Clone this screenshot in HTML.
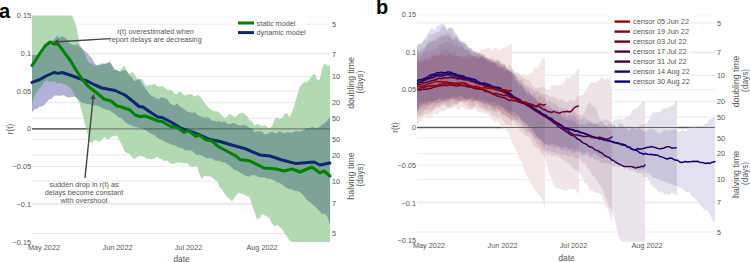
<!DOCTYPE html>
<html><head><meta charset="utf-8"><style>
html,body{margin:0;padding:0;background:#fff;}
body{width:750px;height:262px;overflow:hidden;}
svg{display:block;}
text{font-family:"Liberation Sans", sans-serif;}
</style></head><body>
<svg width="750" height="262" viewBox="0 0 750 262">
<defs>
<clipPath id="ca"><rect x="32" y="15" width="298" height="228"/></clipPath>
</defs>
<line x1="32" x2="330" y1="17.05" y2="17.05" stroke="#f6f6f6" stroke-width="1"/><line x1="32" x2="330" y1="53.30" y2="53.30" stroke="#e9e9e9" stroke-width="1"/><line x1="32" x2="330" y1="91.05" y2="91.05" stroke="#e9e9e9" stroke-width="1"/><line x1="32" x2="330" y1="166.55" y2="166.55" stroke="#e9e9e9" stroke-width="1"/><line x1="32" x2="330" y1="204.30" y2="204.30" stroke="#e9e9e9" stroke-width="1"/><line x1="32" x2="330" y1="24.13" y2="24.13" stroke="#e9e9e9" stroke-width="1"/><line x1="32" x2="330" y1="233.47" y2="233.47" stroke="#e9e9e9" stroke-width="1"/><line x1="32" x2="330" y1="54.04" y2="54.04" stroke="#e9e9e9" stroke-width="1"/><line x1="32" x2="330" y1="203.56" y2="203.56" stroke="#e9e9e9" stroke-width="1"/><line x1="32" x2="330" y1="76.47" y2="76.47" stroke="#e9e9e9" stroke-width="1"/><line x1="32" x2="330" y1="181.13" y2="181.13" stroke="#e9e9e9" stroke-width="1"/><line x1="32" x2="330" y1="102.63" y2="102.63" stroke="#e9e9e9" stroke-width="1"/><line x1="32" x2="330" y1="154.97" y2="154.97" stroke="#e9e9e9" stroke-width="1"/><line x1="32" x2="330" y1="118.33" y2="118.33" stroke="#e9e9e9" stroke-width="1"/><line x1="32" x2="330" y1="139.27" y2="139.27" stroke="#e9e9e9" stroke-width="1"/><line x1="32" x2="330" y1="128.80" y2="128.80" stroke="#6a6a6a" stroke-width="1.3"/><polygon points="32,55 34.5,54.49 37,55.41 39.5,53.31 42,50.17 44.5,48.16 47,44.54 49.5,42.35 52,40.52 54.5,39.23 57,35.53 59.5,38.3 62,35.88 64.5,37.54 67,39.22 69.5,43.42 72,44.34 74.5,45.39 77,44.32 79.5,46.16 82,48.63 84.5,50.65 87,52.83 89.5,55.76 92,58.53 94.5,63.43 97,65.03 99.5,64.66 102,64.46 104.5,63.86 107,63.28 109.5,61.18 112,65.01 114.5,69.84 117,70.02 119.5,71.66 122,71.46 124.5,70.05 127,71.05 129.5,75.76 132,77.15 134.5,81.35 137,79.63 139.5,78.96 142,83.7 144.5,87.04 147,90.38 149.5,93.96 152,96.32 154.5,96.66 157,98.63 159.5,98.81 162,97 164.5,98.31 167,98.78 169.5,102.67 172,104.73 174.5,105.41 177,103.21 179.5,106.21 182,107.68 184.5,109.21 187,111.47 189.5,112.04 192,112.9 194.5,112.1 197,114.56 199.5,115.74 202,116.82 204.5,117.78 207,117.15 209.5,118.25 212,120.38 214.5,120.75 217,121.63 219.5,121.02 222,122.62 224.5,121.25 227,123.79 229.5,124.11 232,123.24 234.5,123.07 237,124.77 239.5,125.62 242,125.28 244.5,125.04 247,126.1 249.5,127.96 252,128.23 254.5,132.43 257,131.13 259.5,131.43 262,131.61 264.5,134.2 267,134.18 269.5,132.55 272,131.81 274.5,133.03 277,133.43 279.5,131.07 282,132.58 284.5,133.14 287,132.15 289.5,132.42 292,132.81 294.5,131.15 297,130.98 299.5,131.7 302,130.58 304.5,129.54 307,128.04 309.5,128.54 312,126.72 314.5,127.7 317,128.24 319.5,127 322,124.64 324.5,123.18 327,120.92 329.5,117.75 330,117 330,224.8 329.5,223.55 327,216.02 324.5,213.26 322,214.39 319.5,211.04 317,208.56 314.5,206 312,204.36 309.5,201.75 307,199.91 304.5,196.8 302,193.71 299.5,191.68 297,191 294.5,190.96 292,189.22 289.5,189.21 287,188.11 284.5,186.6 282,184.52 279.5,182.86 277,182.38 274.5,180.39 272,179.19 269.5,178.77 267,178.8 264.5,177.21 262,177.61 259.5,177.26 257,176.31 254.5,175.14 252,175.01 249.5,176.66 247,176.34 244.5,175.31 242,173.81 239.5,172.25 237,170.52 234.5,169.89 232,167.84 229.5,165.47 227,164.26 224.5,162.6 222,162.36 219.5,160.85 217,160.65 214.5,160.5 212,158.35 209.5,158.15 207,158.29 204.5,157.32 202,155.61 199.5,154.79 197,154.91 194.5,153.25 192,150.87 189.5,150.2 187,150.59 184.5,149.65 182,147.95 179.5,147.83 177,146.65 174.5,145.07 172,144.69 169.5,143.38 167,143.06 164.5,141.46 162,140.06 159.5,138.92 157,137.66 154.5,135.03 152,134.36 149.5,132.66 147,130.92 144.5,129.43 142,128.51 139.5,128.04 137,127.18 134.5,126.81 132,125.79 129.5,124.53 127,123.48 124.5,121.74 122,118.44 119.5,117.65 117,115.84 114.5,113.45 112,112.18 109.5,110.21 107,109.85 104.5,109.26 102,108.01 99.5,106.41 97,105.79 94.5,105.18 92,105.51 89.5,104.11 87,104.19 84.5,103.21 82,102.92 79.5,100.5 77,98.25 74.5,96.62 72,97.04 69.5,97.47 67,97.17 64.5,95.52 62,95.37 59.5,96.01 57,95.39 54.5,95.61 52,98.46 49.5,99.29 47,101.73 44.5,104.91 42,106.37 39.5,106.87 37,108.67 34.5,109.19 32,112.3" fill="#fff"/><polygon points="32,15.5 34.5,15.5 37,15.5 39.5,15.5 42,15.5 44.5,15.5 47,15.5 49.5,15.5 52,15.5 54.5,15.5 57,15.5 59.5,15.5 62,15.5 64.5,15.5 67,15.5 69.5,15.5 72,15.5 74.5,20.83 77,29.32 79.5,44.06 82,48.46 84.5,53.02 87,59.17 89.5,63.56 92,63.04 94.5,65.97 97,65.43 99.5,65.07 102,62.87 104.5,63.8 107,63.78 109.5,62.49 112,65.55 114.5,69.35 117,70.63 119.5,70.95 122,67.71 124.5,65.38 127,72.22 129.5,74.04 132,72.12 134.5,73.77 137,78.74 139.5,79.33 142,79.11 144.5,83.55 147,86.13 149.5,84.5 152,85.3 154.5,83.87 157,86.28 159.5,86.62 162,85.73 164.5,87.46 167,89.49 169.5,90.22 172,89.91 174.5,94.18 177,93.77 179.5,91.48 182,92.87 184.5,95.81 187,94.41 189.5,94.58 192,94.11 194.5,96.83 197,94.91 199.5,95.65 202,98.94 204.5,103.12 207,105.68 209.5,108.61 212,110.21 214.5,111.36 217,111.37 219.5,112.77 222,115.45 224.5,118.12 227,116.95 229.5,113.59 232,115.23 234.5,117.05 237,115.69 239.5,113.15 242,112.38 244.5,113.84 247,115.91 249.5,119.88 252,121.27 254.5,125.38 257,123.95 259.5,124.83 262,126.41 264.5,124.9 267,126.81 269.5,127.91 272,126.16 274.5,120.01 277,116.86 279.5,119.33 282,118.24 284.5,113.92 287,113.07 289.5,117.7 292,112.37 294.5,104.71 297,96.07 299.5,86.89 302,84.17 304.5,81.88 307,82.14 309.5,79.86 312,75.46 314.5,73.63 317,79.3 319.5,80.25 322,69.15 324.5,63.32 327,65.74 329.5,65.62 330,66 330,242 329.5,242 327,242 324.5,242 322,242 319.5,242 317,242 314.5,242 312,242 309.5,242 307,242 304.5,242 302,242 299.5,242 297,242 294.5,242 292,242 289.5,240.68 287,236.23 284.5,233.36 282,229.17 279.5,226.79 277,225 274.5,226.38 272,223.76 269.5,218.1 267,216.54 264.5,215.18 262,214.17 259.5,218.34 257,219.47 254.5,212.03 252,204.97 249.5,196.72 247,196.41 244.5,194.77 242,193.99 239.5,192.63 237,194.33 234.5,197.4 232,201.52 229.5,198.74 227,197.14 224.5,193.43 222,189.79 219.5,186.75 217,181.21 214.5,179.68 212,177.15 209.5,176.27 207,176.29 204.5,175.8 202,178.9 199.5,174.77 197,166.02 194.5,166.85 192,166.89 189.5,165.72 187,163.08 184.5,163.23 182,162.88 179.5,162.51 177,162.71 174.5,163.36 172,164.07 169.5,162.7 167,160.34 164.5,161.23 162,159.61 159.5,158.54 157,156.69 154.5,158.47 152,159.14 149.5,158.87 147,158.78 144.5,156.63 142,156.55 139.5,155.76 137,157.22 134.5,159.17 132,157.13 129.5,153.82 127,153.33 124.5,151.15 122,144.7 119.5,140.8 117,135.27 114.5,136.25 112,136.19 109.5,138.88 107,138.87 104.5,137.01 102,139.5 99.5,142.01 97,140.75 94.5,139.83 92,142.88 89.5,142.35 87,131.66 84.5,121.83 82,112.48 79.5,103.43 77,98.45 74.5,95.19 72,90.02 69.5,87.67 67,85.24 64.5,84.29 62,83.98 59.5,82.66 57,83.45 54.5,80.89 52,82.08 49.5,81.83 47,80.11 44.5,81.9 42,85.51 39.5,88.68 37,91.17 34.5,95.82 32,105" fill="#fff"/><polygon points="32,55 34.5,54.49 37,55.41 39.5,53.31 42,50.17 44.5,48.16 47,44.54 49.5,42.35 52,40.52 54.5,39.23 57,35.53 59.5,38.3 62,35.88 64.5,37.54 67,39.22 69.5,43.42 72,44.34 74.5,45.39 77,44.32 79.5,46.16 82,48.63 84.5,50.65 87,52.83 89.5,55.76 92,58.53 94.5,63.43 97,65.03 99.5,64.66 102,64.46 104.5,63.86 107,63.28 109.5,61.18 112,65.01 114.5,69.84 117,70.02 119.5,71.66 122,71.46 124.5,70.05 127,71.05 129.5,75.76 132,77.15 134.5,81.35 137,79.63 139.5,78.96 142,83.7 144.5,87.04 147,90.38 149.5,93.96 152,96.32 154.5,96.66 157,98.63 159.5,98.81 162,97 164.5,98.31 167,98.78 169.5,102.67 172,104.73 174.5,105.41 177,103.21 179.5,106.21 182,107.68 184.5,109.21 187,111.47 189.5,112.04 192,112.9 194.5,112.1 197,114.56 199.5,115.74 202,116.82 204.5,117.78 207,117.15 209.5,118.25 212,120.38 214.5,120.75 217,121.63 219.5,121.02 222,122.62 224.5,121.25 227,123.79 229.5,124.11 232,123.24 234.5,123.07 237,124.77 239.5,125.62 242,125.28 244.5,125.04 247,126.1 249.5,127.96 252,128.23 254.5,132.43 257,131.13 259.5,131.43 262,131.61 264.5,134.2 267,134.18 269.5,132.55 272,131.81 274.5,133.03 277,133.43 279.5,131.07 282,132.58 284.5,133.14 287,132.15 289.5,132.42 292,132.81 294.5,131.15 297,130.98 299.5,131.7 302,130.58 304.5,129.54 307,128.04 309.5,128.54 312,126.72 314.5,127.7 317,128.24 319.5,127 322,124.64 324.5,123.18 327,120.92 329.5,117.75 330,117 330,224.8 329.5,223.55 327,216.02 324.5,213.26 322,214.39 319.5,211.04 317,208.56 314.5,206 312,204.36 309.5,201.75 307,199.91 304.5,196.8 302,193.71 299.5,191.68 297,191 294.5,190.96 292,189.22 289.5,189.21 287,188.11 284.5,186.6 282,184.52 279.5,182.86 277,182.38 274.5,180.39 272,179.19 269.5,178.77 267,178.8 264.5,177.21 262,177.61 259.5,177.26 257,176.31 254.5,175.14 252,175.01 249.5,176.66 247,176.34 244.5,175.31 242,173.81 239.5,172.25 237,170.52 234.5,169.89 232,167.84 229.5,165.47 227,164.26 224.5,162.6 222,162.36 219.5,160.85 217,160.65 214.5,160.5 212,158.35 209.5,158.15 207,158.29 204.5,157.32 202,155.61 199.5,154.79 197,154.91 194.5,153.25 192,150.87 189.5,150.2 187,150.59 184.5,149.65 182,147.95 179.5,147.83 177,146.65 174.5,145.07 172,144.69 169.5,143.38 167,143.06 164.5,141.46 162,140.06 159.5,138.92 157,137.66 154.5,135.03 152,134.36 149.5,132.66 147,130.92 144.5,129.43 142,128.51 139.5,128.04 137,127.18 134.5,126.81 132,125.79 129.5,124.53 127,123.48 124.5,121.74 122,118.44 119.5,117.65 117,115.84 114.5,113.45 112,112.18 109.5,110.21 107,109.85 104.5,109.26 102,108.01 99.5,106.41 97,105.79 94.5,105.18 92,105.51 89.5,104.11 87,104.19 84.5,103.21 82,102.92 79.5,100.5 77,98.25 74.5,96.62 72,97.04 69.5,97.47 67,97.17 64.5,95.52 62,95.37 59.5,96.01 57,95.39 54.5,95.61 52,98.46 49.5,99.29 47,101.73 44.5,104.91 42,106.37 39.5,106.87 37,108.67 34.5,109.19 32,112.3" fill="rgba(0,0,128,0.3)"/><polygon points="32,15.5 34.5,15.5 37,15.5 39.5,15.5 42,15.5 44.5,15.5 47,15.5 49.5,15.5 52,15.5 54.5,15.5 57,15.5 59.5,15.5 62,15.5 64.5,15.5 67,15.5 69.5,15.5 72,15.5 74.5,20.83 77,29.32 79.5,44.06 82,48.46 84.5,53.02 87,59.17 89.5,63.56 92,63.04 94.5,65.97 97,65.43 99.5,65.07 102,62.87 104.5,63.8 107,63.78 109.5,62.49 112,65.55 114.5,69.35 117,70.63 119.5,70.95 122,67.71 124.5,65.38 127,72.22 129.5,74.04 132,72.12 134.5,73.77 137,78.74 139.5,79.33 142,79.11 144.5,83.55 147,86.13 149.5,84.5 152,85.3 154.5,83.87 157,86.28 159.5,86.62 162,85.73 164.5,87.46 167,89.49 169.5,90.22 172,89.91 174.5,94.18 177,93.77 179.5,91.48 182,92.87 184.5,95.81 187,94.41 189.5,94.58 192,94.11 194.5,96.83 197,94.91 199.5,95.65 202,98.94 204.5,103.12 207,105.68 209.5,108.61 212,110.21 214.5,111.36 217,111.37 219.5,112.77 222,115.45 224.5,118.12 227,116.95 229.5,113.59 232,115.23 234.5,117.05 237,115.69 239.5,113.15 242,112.38 244.5,113.84 247,115.91 249.5,119.88 252,121.27 254.5,125.38 257,123.95 259.5,124.83 262,126.41 264.5,124.9 267,126.81 269.5,127.91 272,126.16 274.5,120.01 277,116.86 279.5,119.33 282,118.24 284.5,113.92 287,113.07 289.5,117.7 292,112.37 294.5,104.71 297,96.07 299.5,86.89 302,84.17 304.5,81.88 307,82.14 309.5,79.86 312,75.46 314.5,73.63 317,79.3 319.5,80.25 322,69.15 324.5,63.32 327,65.74 329.5,65.62 330,66 330,242 329.5,242 327,242 324.5,242 322,242 319.5,242 317,242 314.5,242 312,242 309.5,242 307,242 304.5,242 302,242 299.5,242 297,242 294.5,242 292,242 289.5,240.68 287,236.23 284.5,233.36 282,229.17 279.5,226.79 277,225 274.5,226.38 272,223.76 269.5,218.1 267,216.54 264.5,215.18 262,214.17 259.5,218.34 257,219.47 254.5,212.03 252,204.97 249.5,196.72 247,196.41 244.5,194.77 242,193.99 239.5,192.63 237,194.33 234.5,197.4 232,201.52 229.5,198.74 227,197.14 224.5,193.43 222,189.79 219.5,186.75 217,181.21 214.5,179.68 212,177.15 209.5,176.27 207,176.29 204.5,175.8 202,178.9 199.5,174.77 197,166.02 194.5,166.85 192,166.89 189.5,165.72 187,163.08 184.5,163.23 182,162.88 179.5,162.51 177,162.71 174.5,163.36 172,164.07 169.5,162.7 167,160.34 164.5,161.23 162,159.61 159.5,158.54 157,156.69 154.5,158.47 152,159.14 149.5,158.87 147,158.78 144.5,156.63 142,156.55 139.5,155.76 137,157.22 134.5,159.17 132,157.13 129.5,153.82 127,153.33 124.5,151.15 122,144.7 119.5,140.8 117,135.27 114.5,136.25 112,136.19 109.5,138.88 107,138.87 104.5,137.01 102,139.5 99.5,142.01 97,140.75 94.5,139.83 92,142.88 89.5,142.35 87,131.66 84.5,121.83 82,112.48 79.5,103.43 77,98.45 74.5,95.19 72,90.02 69.5,87.67 67,85.24 64.5,84.29 62,83.98 59.5,82.66 57,83.45 54.5,80.89 52,82.08 49.5,81.83 47,80.11 44.5,81.9 42,85.51 39.5,88.68 37,91.17 34.5,95.82 32,105" fill="rgba(0,128,0,0.3)"/><line x1="32" x2="330" y1="128.80" y2="128.80" stroke="#333" stroke-width="1.3" stroke-opacity="0.5"/><polyline points="32,82.4 40,79.5 46,76 54,72.5 58,73.4 62,72.5 70,75 78,78 88,81.5 95,85 102,88 115,90.5 125,95 135,103 139,106.5 143,107 150,112 158,117 162,117.5 170,121.5 177,125.5 180,128 188,130.5 200,135 210,139.5 220,141.5 230,144.5 246,149 260,155 270,156 282,160 296,163.6 314,162 320,165 330,163" fill="none" stroke="#0c286c" stroke-width="3.0" stroke-linejoin="round" stroke-linecap="round"/><polyline points="32,65.6 39.5,54 45,46 50,42 54,44 58,44 64,52 70,60 76,70 82,79 88,86 93,90 98,94 104,99 111,101 117,106 120,106.5 130,110 135,115 140,116.5 145,116 152,118.5 158,121 162,121.5 170,126 178,128 184,132.5 188,130.5 196,136.5 199,135 206,140 212,141 219,147 236,156 240,159.6 250,161 264,168 276,169 284,171 292,169 300,172 312,167 320,173 324,171 330,176" fill="none" stroke="#008000" stroke-width="3.0" stroke-linejoin="round" stroke-linecap="round"/><text x="31" y="18.150000000000013" font-size="7.3" text-anchor="end" fill="#555" >0.15</text><text x="31" y="55.90000000000001" font-size="7.3" text-anchor="end" fill="#555" >0.1</text><text x="31" y="93.65" font-size="7.3" text-anchor="end" fill="#555" >0.05</text><text x="31" y="131.4" font-size="7.3" text-anchor="end" fill="#555" >0</text><text x="31" y="169.15" font-size="7.3" text-anchor="end" fill="#555" >−0.05</text><text x="31" y="206.9" font-size="7.3" text-anchor="end" fill="#555" >−0.1</text><text x="31" y="244.65" font-size="7.3" text-anchor="end" fill="#555" >−0.15</text><text x="332" y="26.734775735448274" font-size="7.3" text-anchor="start" fill="#555" >5</text><text x="332" y="236.06522426455174" font-size="7.3" text-anchor="start" fill="#555" >5</text><text x="332" y="56.6391255253202" font-size="7.3" text-anchor="start" fill="#555" >7</text><text x="332" y="206.16087447467982" font-size="7.3" text-anchor="start" fill="#555" >7</text><text x="332" y="79.06738786772414" font-size="7.3" text-anchor="start" fill="#555" >10</text><text x="332" y="183.73261213227588" font-size="7.3" text-anchor="start" fill="#555" >10</text><text x="332" y="105.23369393386207" font-size="7.3" text-anchor="start" fill="#555" >20</text><text x="332" y="157.56630606613794" font-size="7.3" text-anchor="start" fill="#555" >20</text><text x="332" y="120.93347757354483" font-size="7.3" text-anchor="start" fill="#555" >50</text><text x="332" y="141.8665224264552" font-size="7.3" text-anchor="start" fill="#555" >50</text><text x="44" y="249.6" font-size="7.3" text-anchor="middle" fill="#555" >May 2022</text><text x="117.5" y="249.6" font-size="7.3" text-anchor="middle" fill="#555" >Jun 2022</text><text x="188.5" y="249.6" font-size="7.3" text-anchor="middle" fill="#555" >Jul 2022</text><text x="262" y="249.6" font-size="7.3" text-anchor="middle" fill="#555" >Aug 2022</text><text x="181.5" y="261.5" font-size="8.3" text-anchor="middle" fill="#555" >date</text><text transform="translate(13,129) rotate(-90)" font-size="8.3" text-anchor="middle" fill="#555">r(t)</text><text transform="translate(353.5,83) rotate(-90)" font-size="8.7" text-anchor="middle" fill="#555">doubling time</text><text transform="translate(362.5,82) rotate(-90)" font-size="8.3" text-anchor="middle" fill="#555">(days)</text><text transform="translate(353.5,176) rotate(-90)" font-size="8.9" text-anchor="middle" fill="#555">halving time</text><text transform="translate(362.5,175) rotate(-90)" font-size="8.3" text-anchor="middle" fill="#555">(days)</text><rect x="235" y="17" width="72" height="21" fill="#fff"/><line x1="238" x2="254" y1="23" y2="23" stroke="#008000" stroke-width="3"/><line x1="238" x2="254" y1="32.6" y2="32.6" stroke="#0c286c" stroke-width="3"/><text x="256.5" y="25.6" font-size="7.3" text-anchor="start" fill="#555" >static model</text><text x="256.5" y="35.2" font-size="7.3" text-anchor="start" fill="#555" >dynamic model</text><text x="155.5" y="34.2" font-size="7.3" text-anchor="middle" fill="#555" >r(t) overestimated when</text><text x="155.5" y="42.2" font-size="7.3" text-anchor="middle" fill="#555" >report delays are decreasing</text><text x="84" y="187" font-size="7.3" text-anchor="middle" fill="#555" >sudden drop in r(t) as</text><text x="84" y="194.8" font-size="7.3" text-anchor="middle" fill="#555" >delays become constant</text><text x="84" y="202.6" font-size="7.3" text-anchor="middle" fill="#555" >with overshoot</text><line x1="110" y1="38.6" x2="58.59" y2="41.70" stroke="#444" stroke-width="1.4"/><polygon points="53.60,42.00 58.43,39.10 58.75,44.29" fill="#444"/><line x1="85" y1="178" x2="93.00" y2="98.97" stroke="#444" stroke-width="1.4"/><polygon points="93.50,94.00 95.58,99.24 90.41,98.71" fill="#444"/><text x="-1" y="17.7" font-size="20" font-weight="bold" fill="#000">a</text><line x1="417" x2="715" y1="15.90" y2="15.90" stroke="#f6f6f6" stroke-width="1"/><line x1="417" x2="715" y1="52.10" y2="52.10" stroke="#e9e9e9" stroke-width="1"/><line x1="417" x2="715" y1="89.80" y2="89.80" stroke="#e9e9e9" stroke-width="1"/><line x1="417" x2="715" y1="165.20" y2="165.20" stroke="#e9e9e9" stroke-width="1"/><line x1="417" x2="715" y1="202.90" y2="202.90" stroke="#e9e9e9" stroke-width="1"/><line x1="417" x2="715" y1="22.97" y2="22.97" stroke="#e9e9e9" stroke-width="1"/><line x1="417" x2="715" y1="232.03" y2="232.03" stroke="#e9e9e9" stroke-width="1"/><line x1="417" x2="715" y1="52.84" y2="52.84" stroke="#e9e9e9" stroke-width="1"/><line x1="417" x2="715" y1="202.16" y2="202.16" stroke="#e9e9e9" stroke-width="1"/><line x1="417" x2="715" y1="75.24" y2="75.24" stroke="#e9e9e9" stroke-width="1"/><line x1="417" x2="715" y1="179.76" y2="179.76" stroke="#e9e9e9" stroke-width="1"/><line x1="417" x2="715" y1="101.37" y2="101.37" stroke="#e9e9e9" stroke-width="1"/><line x1="417" x2="715" y1="153.63" y2="153.63" stroke="#e9e9e9" stroke-width="1"/><line x1="417" x2="715" y1="117.05" y2="117.05" stroke="#e9e9e9" stroke-width="1"/><line x1="417" x2="715" y1="137.95" y2="137.95" stroke="#e9e9e9" stroke-width="1"/><line x1="417" x2="715" y1="127.50" y2="127.50" stroke="#6a6a6a" stroke-width="1.3"/><polygon points="417,61.5 419.5,62.57 422,62.25 424.5,59.32 427,61.28 429.5,60.26 432,58.48 434.5,55.3 437,56.39 439.5,54.71 442,53.61 444.5,56.41 447,56.88 449.5,52.62 452,57.2 454.5,56.42 457,55.81 459.5,55.82 462,58.27 464.5,57.68 467,58.64 469.5,58.17 472,55.16 474.5,56.34 477,55.41 479.5,51.6 482,49.23 484.5,49.51 487,48.23 489.5,47.81 492,51.21 494.5,48.01 497,48.33 499.5,50.99 502,48.07 504.5,47.74 507,46.68 509.5,44.82 512,44.5 512,127.2 509.5,124.98 507,124.38 504.5,122.44 502,118.69 499.5,117.58 497,118.16 494.5,115.92 492,115.95 489.5,111.43 487,111.49 484.5,110.39 482,109.86 479.5,108.11 477,107.51 474.5,106.39 472,108.93 469.5,108.16 467,105.71 464.5,104.64 462,102.78 459.5,102.63 457,104.4 454.5,103.93 452,107.16 449.5,108.01 447,107.83 444.5,105.33 442,105.83 439.5,108.55 437,107.42 434.5,109.79 432,111.74 429.5,113.28 427,114.45 424.5,113.65 422,117.12 419.5,117.06 417,119.2" fill="#fff"/><polygon points="417,58.5 419.5,60.41 422,61.34 424.5,58.15 427,57.47 429.5,56.97 432,54.07 434.5,54.81 437,54.51 439.5,54.43 442,50.04 444.5,50.2 447,49.35 449.5,53.45 452,53.37 454.5,50.61 457,56.01 459.5,56.67 462,55.87 464.5,56.43 467,54.69 469.5,54.48 472,57.54 474.5,55.7 477,56.85 479.5,57.61 482,57.05 484.5,59.72 487,60.1 489.5,62.61 492,61.9 494.5,63.5 497,63.8 499.5,65.61 502,65.59 504.5,65.69 507,70.63 509.5,72.05 512,72.7 514.5,73.6 517,73.2 519.5,74.34 522,74.7 524.5,73.29 527,76.46 529.5,73 532,72.73 534.5,67.93 537,68.29 539.5,65.24 542,59 544.5,58 545,58.5 545,208.2 544.5,207.37 542,199.35 539.5,195.69 537,192.28 534.5,189.12 532,185.2 529.5,180.76 527,176.43 524.5,170.22 522,163.04 519.5,159.42 517,152.28 514.5,147.01 512,142.99 509.5,134.1 507,130.73 504.5,128.76 502,129.2 499.5,123.18 497,121.6 494.5,122.01 492,119.53 489.5,115.72 487,113.39 484.5,113.76 482,112.36 479.5,112.58 477,111.36 474.5,108.04 472,110.06 469.5,109.86 467,110.05 464.5,108.9 462,106.41 459.5,109.83 457,109.61 454.5,106.06 452,108.47 449.5,108.4 447,109.04 444.5,111.85 442,110.97 439.5,111.79 437,114.93 434.5,113.26 432,116.13 429.5,117.37 427,118.03 424.5,116.8 422,119.65 419.5,122.46 417,124.6" fill="#fff"/><polygon points="417,54.5 419.5,56.72 422,55.69 424.5,52 427,50.27 429.5,51.02 432,49.07 434.5,49.75 437,47.15 439.5,44.71 442,43.29 444.5,43.81 447,41.23 449.5,42.7 452,42.11 454.5,46.83 457,43.59 459.5,48.39 462,45.81 464.5,50.03 467,49.45 469.5,50.96 472,54.31 474.5,51.36 477,52.34 479.5,57.28 482,55.91 484.5,54.49 487,59.64 489.5,60.1 492,56.96 494.5,59.64 497,59.33 499.5,61.34 502,64.01 504.5,62.84 507,66.63 509.5,64.53 512,66.96 514.5,72.18 517,72.1 519.5,74.19 522,77.08 524.5,78.48 527,80.02 529.5,80.25 532,84.88 534.5,87.02 537,88.01 539.5,87.38 542,86.78 544.5,87.75 547,89.66 549.5,88.87 552,85.35 554.5,85.25 557,85.17 559.5,85.2 562,84.95 564.5,81.4 567,77.04 569.5,79.01 572,75.15 574.5,73.72 577,70.36 579,68.5 579,194.2 577,191.77 574.5,189.35 572,189.83 569.5,188.2 567,191.4 564.5,190.75 562,189.63 559.5,188.36 557,188.19 554.5,186.76 552,180.55 549.5,173.78 547,164.5 544.5,156.52 542,154.42 539.5,149.82 537,148.04 534.5,146.55 532,141.99 529.5,136.75 527,136.6 524.5,134.72 522,131.88 519.5,129.78 517,125.85 514.5,122.62 512,120.9 509.5,119.26 507,116.91 504.5,114.94 502,115.86 499.5,111.28 497,112.76 494.5,112.35 492,110.59 489.5,110.85 487,109.8 484.5,108.92 482,107.36 479.5,106.68 477,102.84 474.5,105.89 472,105.67 469.5,104.82 467,101.44 464.5,101.53 462,101.13 459.5,101.38 457,104.76 454.5,104.79 452,102.78 449.5,106.3 447,105.32 444.5,103.77 442,104.02 439.5,106.28 437,105.87 434.5,108.08 432,110.58 429.5,108.97 427,110.74 424.5,109.99 422,113.25 419.5,114.48 417,116.2" fill="#fff"/><polygon points="417,51.5 419.5,52.93 422,50.92 424.5,49.75 427,44.43 429.5,43.15 432,41.24 434.5,40.13 437,41.17 439.5,36.9 442,37.66 444.5,34.82 447,35.47 449.5,36.78 452,39.44 454.5,39.67 457,38.57 459.5,41.75 462,42.98 464.5,48.48 467,50.05 469.5,52.03 472,54.63 474.5,56.72 477,58.5 479.5,58.03 482,55.66 484.5,59.12 487,57.93 489.5,59.9 492,59.85 494.5,60.49 497,61.48 499.5,63.12 502,63.86 504.5,64.19 507,69.02 509.5,70.23 512,73.43 514.5,74.45 517,76.27 519.5,79.74 522,79.17 524.5,84.38 527,85.72 529.5,86.88 532,88.31 534.5,90.91 537,90.57 539.5,92.6 542,94.33 544.5,94.28 547,93.95 549.5,96.75 552,96.48 554.5,97.48 557,98.27 559.5,100.13 562,98.64 564.5,101.26 567,102.49 569.5,99.39 572,100.76 574.5,101.55 577,96.83 579.5,95.33 582,95.53 584.5,92.57 587,88.7 589.5,83.8 592,82.57 594.5,83.28 597,81.81 599.5,79.83 602,76.72 604.5,80.22 607,78.07 609.5,80.03 612,74.5 612,223.2 609.5,213.55 607,208.02 604.5,203.55 602,196.39 599.5,192.83 597,193.76 594.5,191.88 592,190.12 589.5,190.43 587,183.42 584.5,182.9 582,176.08 579.5,172.68 577,169.94 574.5,169.92 572,167.3 569.5,163.66 567,162.64 564.5,161.37 562,158.91 559.5,157.19 557,155.51 554.5,156.46 552,155.53 549.5,154.35 547,154.33 544.5,151.26 542,149.26 539.5,146.35 537,143.67 534.5,139.13 532,135.6 529.5,132.31 527,132.88 524.5,129.78 522,126.69 519.5,123.32 517,122.18 514.5,119.8 512,120.37 509.5,117.81 507,116.43 504.5,114.61 502,113.91 499.5,110 497,108.41 494.5,110.15 492,108.86 489.5,105.08 487,107.78 484.5,106.53 482,103.27 479.5,102.9 477,101.04 474.5,100.99 472,102.3 469.5,100.68 467,100.82 464.5,102.66 462,100.52 459.5,101.04 457,101.44 454.5,100.48 452,99.63 449.5,101.99 447,102.04 444.5,100.66 442,102.89 439.5,102.91 437,103.64 434.5,106.37 432,104.35 429.5,105.29 427,107.11 424.5,109.48 422,108.19 419.5,109.8 417,113.2" fill="#fff"/><polygon points="417,48.5 419.5,50.23 422,48.19 424.5,47.84 427,42.71 429.5,40.85 432,41.57 434.5,39.69 437,36.41 439.5,36.82 442,34.48 444.5,36.39 447,33.09 449.5,33.62 452,38.21 454.5,36.99 457,38 459.5,42.22 462,43.12 464.5,42.55 467,46.39 469.5,48.79 472,48.12 474.5,52.39 477,51.05 479.5,53.29 482,53.18 484.5,54.96 487,59.99 489.5,58.29 492,62.65 494.5,61.39 497,63.74 499.5,66.56 502,67.13 504.5,65.76 507,69.65 509.5,71.37 512,71.61 514.5,73.92 517,80.57 519.5,81.52 522,82.67 524.5,86.71 527,88.29 529.5,93.94 532,93.94 534.5,93.11 537,97.86 539.5,95.38 542,97.5 544.5,97.41 547,102.14 549.5,100.17 552,103.4 554.5,102.4 557,105.5 559.5,107.69 562,108.07 564.5,108.8 567,110.07 569.5,110.96 572,112.88 574.5,111.5 577,114.52 579.5,114.46 582,115.49 584.5,112.95 587,105.33 589.5,101.97 592,105.02 594.5,106.52 597,109.6 599.5,118.86 602,121.55 604.5,119.37 607,119.4 609.5,120.93 612,123.2 614.5,119.4 617,119.18 619.5,118.19 622,119.98 624.5,118.6 627,116.28 629.5,115.69 632,110.92 634.5,108.87 637,108.79 639.5,104.93 642,102.58 644.5,100.5 645,100.5 645,241.8 644.5,241.8 642,241.8 639.5,241.8 637,241.8 634.5,241.8 632,241.8 629.5,241.8 627,241.8 624.5,241.8 622,241.8 619.5,239.11 617,229.24 614.5,219.21 612,212.09 609.5,206.75 607,201.83 604.5,194.48 602,188.12 599.5,184.27 597,180.96 594.5,176.11 592,175.54 589.5,169.17 587,167.49 584.5,163.34 582,161.44 579.5,158.17 577,158.44 574.5,158.54 572,155.22 569.5,157.29 567,155.78 564.5,154.52 562,155.41 559.5,153.86 557,154.07 554.5,152.44 552,151.98 549.5,151.1 547,150.96 544.5,147.74 542,145.21 539.5,140.28 537,138.54 534.5,138.45 532,132.66 529.5,132.06 527,127.63 524.5,126.42 522,122.19 519.5,119.27 517,120.27 514.5,119.43 512,117.28 509.5,113.65 507,112.41 504.5,111.58 502,109.14 499.5,110.01 497,108.3 494.5,107.43 492,105.71 489.5,104.57 487,103.86 484.5,104.18 482,102.74 479.5,101.98 477,100.35 474.5,100.29 472,98.66 469.5,98.95 467,98.54 464.5,99.44 462,100.38 459.5,101.01 457,101.15 454.5,98.74 452,98.89 449.5,99.81 447,101.4 444.5,102.13 442,100.95 439.5,103 437,103.02 434.5,103.42 432,102.19 429.5,105.39 427,104.19 424.5,105 422,106.09 419.5,107.99 417,111.2" fill="#fff"/><polygon points="417,45.5 419.5,43.06 422,44.18 424.5,38.79 427,40.43 429.5,33.08 432,35.31 434.5,32.87 437,32.29 439.5,31.54 442,26.28 444.5,26.49 447,28.84 449.5,27.2 452,27.62 454.5,29.44 457,35.59 459.5,38.67 462,41.29 464.5,41.12 467,47.12 469.5,47.56 472,48.66 474.5,52.28 477,53.53 479.5,52.99 482,56.59 484.5,56.73 487,58.95 489.5,61.92 492,62.03 494.5,62.45 497,66.37 499.5,68.65 502,67.75 504.5,71.65 507,68.64 509.5,70.88 512,73.76 514.5,80.59 517,82.35 519.5,85.5 522,86.33 524.5,90.37 527,95.34 529.5,94.4 532,96.15 534.5,97.14 537,100.58 539.5,103.77 542,103.67 544.5,104.24 547,106.08 549.5,105.8 552,110.97 554.5,109.34 557,110.08 559.5,111.79 562,115.16 564.5,113.29 567,116.89 569.5,114.71 572,115.91 574.5,114.74 577,119.57 579.5,119.68 582,118.74 584.5,117.61 587,120.16 589.5,120.25 592,123.06 594.5,123.96 597,123.48 599.5,121.66 602,120.89 604.5,125.61 607,126.31 609.5,122.84 612,125 614.5,125.06 617,127.69 619.5,123.17 622,123.41 624.5,127.48 627,126.26 629.5,125.87 632,127.6 634.5,126.83 637,127.48 639.5,125.44 642,124.74 644.5,124.51 647,122.45 649.5,119.39 652,113.4 654.5,112.19 657,112.51 659.5,111.9 662,110.31 664.5,107.73 667,108.61 669.5,106.84 672,105.63 674.5,103.96 677,98.5 677,195.2 674.5,194.34 672,192.62 669.5,195.16 667,193.95 664.5,194.77 662,191.35 659.5,192.54 657,189.96 654.5,187.29 652,186.54 649.5,181.22 647,177.16 644.5,177.95 642,173.61 639.5,172.88 637,172.63 634.5,171.9 632,169.88 629.5,170.75 627,167.43 624.5,169.59 622,165.82 619.5,167.71 617,165.89 614.5,167.08 612,165.04 609.5,163.82 607,163.29 604.5,162.91 602,163.35 599.5,161.07 597,159.98 594.5,159.67 592,156.92 589.5,158.36 587,154.79 584.5,155.34 582,156.25 579.5,152.92 577,151.14 574.5,153.59 572,152.8 569.5,149.1 567,151.91 564.5,149.02 562,151.01 559.5,147.22 557,146.72 554.5,148.38 552,146.32 549.5,147.01 547,144.72 544.5,143.93 542,139.79 539.5,139.19 537,137.81 534.5,133.51 532,130.52 529.5,127.38 527,124.64 524.5,122.67 522,121.19 519.5,117.03 517,117.02 514.5,116.84 512,114.84 509.5,113.32 507,111.42 504.5,108.01 502,107.11 499.5,106.84 497,104.51 494.5,106.97 492,105.76 489.5,105.19 487,101.27 484.5,103.48 482,102.24 479.5,101.52 477,100.6 474.5,100.71 472,101.19 469.5,98.45 467,100.8 464.5,99.15 462,97.51 459.5,100.2 457,96.68 454.5,99.29 452,98 449.5,98.91 447,98.63 444.5,100.28 442,100.9 439.5,98.64 437,100.09 434.5,100.88 432,102.37 429.5,101.53 427,105.01 424.5,103.46 422,104.69 419.5,105.44 417,109.2" fill="#fff"/><polygon points="417,44.5 419.5,44.82 422,42.42 424.5,39.11 427,34.55 429.5,31.41 432,27.29 434.5,30.42 437,25.8 439.5,25.07 442,23.05 444.5,23.83 447,31.22 449.5,27.55 452,28.45 454.5,35.11 457,34.77 459.5,40.47 462,42.54 464.5,44.34 467,43.64 469.5,48.2 472,51.13 474.5,51.56 477,52.42 479.5,53.85 482,54.59 484.5,58.24 487,57.04 489.5,58.42 492,60.52 494.5,63.04 497,60.77 499.5,60.52 502,66.7 504.5,67.66 507,69.12 509.5,69.45 512,69.67 514.5,73.65 517,78.77 519.5,83.93 522,84.59 524.5,89.96 527,92.3 529.5,90.93 532,97.27 534.5,97.72 537,102.05 539.5,102.04 542,105.84 544.5,106.33 547,108.77 549.5,109.7 552,108.81 554.5,110.92 557,112.86 559.5,115.23 562,116.55 564.5,118.9 567,120.28 569.5,119.58 572,119.78 574.5,121.34 577,124.14 579.5,123.89 582,123.86 584.5,125.26 587,122.92 589.5,122.88 592,123.15 594.5,123.52 597,123.18 599.5,126.49 602,128.18 604.5,124.39 607,127.48 609.5,128.98 612,128.33 614.5,125.56 617,128.28 619.5,126.66 622,126.57 624.5,126.03 627,128.89 629.5,131.15 632,127.37 634.5,127.88 637,129.38 639.5,127.93 642,130.35 644.5,131.97 647,130.88 649.5,128.95 652,129.08 654.5,130.1 657,132.62 659.5,134.09 662,131.91 664.5,129.79 667,130.23 669.5,131.1 672,129.44 674.5,129.35 677,130.82 679.5,132.73 682,129.07 684.5,131.53 687,130.73 689.5,127.74 692,125.93 694.5,125.17 697,127.17 699.5,127.55 702,127.3 704.5,123.63 707,123.13 709.5,119.23 712,118.77 714.5,116.5 715,116.5 715,223.2 714.5,222.53 712,218.9 709.5,213.2 707,210 704.5,210.4 702,206.91 699.5,204.17 697,200.56 694.5,197.88 692,196.86 689.5,192.11 687,192.24 684.5,190.53 682,188.05 679.5,188.42 677,185.77 674.5,185.92 672,184.08 669.5,183.63 667,182.36 664.5,182.32 662,180.22 659.5,180.35 657,178.66 654.5,178.05 652,176.88 649.5,173.62 647,174.1 644.5,169.39 642,169.11 639.5,170.77 637,168.49 634.5,168.83 632,164.55 629.5,164.29 627,165.57 624.5,164.24 622,163.64 619.5,161.18 617,162.7 614.5,160.12 612,160 609.5,156.93 607,157.6 604.5,157.95 602,158.46 599.5,156.67 597,156 594.5,152.81 592,155.4 589.5,152.9 587,151.21 584.5,153.14 582,152.43 579.5,150.91 577,149.02 574.5,150.41 572,148.12 569.5,149.84 567,146.74 564.5,146.87 562,147.91 559.5,146.67 557,145.03 554.5,144.82 552,142.72 549.5,144.45 547,144.45 544.5,143.45 542,140.53 539.5,137.89 537,135.26 534.5,133.36 532,127.25 529.5,127.52 527,123.6 524.5,121.67 522,120.26 519.5,116.45 517,113.64 514.5,111.9 512,110.68 509.5,110.92 507,110.57 504.5,108.41 502,106.73 499.5,103.53 497,105.75 494.5,101.61 492,103.26 489.5,101.67 487,102.63 484.5,99.01 482,100.5 479.5,98.33 477,100.16 474.5,98.55 472,97.34 469.5,98.16 467,99.41 464.5,98.08 462,95.84 459.5,96.03 457,98.12 454.5,95.82 452,96.69 449.5,97.95 447,98.33 444.5,98.51 442,99.27 439.5,98.41 437,100.99 434.5,100.13 432,103.29 429.5,100.44 427,101.43 424.5,101.57 422,102.06 419.5,102.61 417,107.2" fill="#fff"/><polygon points="417,61.5 419.5,62.57 422,62.25 424.5,59.32 427,61.28 429.5,60.26 432,58.48 434.5,55.3 437,56.39 439.5,54.71 442,53.61 444.5,56.41 447,56.88 449.5,52.62 452,57.2 454.5,56.42 457,55.81 459.5,55.82 462,58.27 464.5,57.68 467,58.64 469.5,58.17 472,55.16 474.5,56.34 477,55.41 479.5,51.6 482,49.23 484.5,49.51 487,48.23 489.5,47.81 492,51.21 494.5,48.01 497,48.33 499.5,50.99 502,48.07 504.5,47.74 507,46.68 509.5,44.82 512,44.5 512,127.2 509.5,124.98 507,124.38 504.5,122.44 502,118.69 499.5,117.58 497,118.16 494.5,115.92 492,115.95 489.5,111.43 487,111.49 484.5,110.39 482,109.86 479.5,108.11 477,107.51 474.5,106.39 472,108.93 469.5,108.16 467,105.71 464.5,104.64 462,102.78 459.5,102.63 457,104.4 454.5,103.93 452,107.16 449.5,108.01 447,107.83 444.5,105.33 442,105.83 439.5,108.55 437,107.42 434.5,109.79 432,111.74 429.5,113.28 427,114.45 424.5,113.65 422,117.12 419.5,117.06 417,119.2" fill="rgba(150,10,0,0.1)"/><polygon points="417,58.5 419.5,60.41 422,61.34 424.5,58.15 427,57.47 429.5,56.97 432,54.07 434.5,54.81 437,54.51 439.5,54.43 442,50.04 444.5,50.2 447,49.35 449.5,53.45 452,53.37 454.5,50.61 457,56.01 459.5,56.67 462,55.87 464.5,56.43 467,54.69 469.5,54.48 472,57.54 474.5,55.7 477,56.85 479.5,57.61 482,57.05 484.5,59.72 487,60.1 489.5,62.61 492,61.9 494.5,63.5 497,63.8 499.5,65.61 502,65.59 504.5,65.69 507,70.63 509.5,72.05 512,72.7 514.5,73.6 517,73.2 519.5,74.34 522,74.7 524.5,73.29 527,76.46 529.5,73 532,72.73 534.5,67.93 537,68.29 539.5,65.24 542,59 544.5,58 545,58.5 545,208.2 544.5,207.37 542,199.35 539.5,195.69 537,192.28 534.5,189.12 532,185.2 529.5,180.76 527,176.43 524.5,170.22 522,163.04 519.5,159.42 517,152.28 514.5,147.01 512,142.99 509.5,134.1 507,130.73 504.5,128.76 502,129.2 499.5,123.18 497,121.6 494.5,122.01 492,119.53 489.5,115.72 487,113.39 484.5,113.76 482,112.36 479.5,112.58 477,111.36 474.5,108.04 472,110.06 469.5,109.86 467,110.05 464.5,108.9 462,106.41 459.5,109.83 457,109.61 454.5,106.06 452,108.47 449.5,108.4 447,109.04 444.5,111.85 442,110.97 439.5,111.79 437,114.93 434.5,113.26 432,116.13 429.5,117.37 427,118.03 424.5,116.8 422,119.65 419.5,122.46 417,124.6" fill="rgba(128,10,18,0.1)"/><polygon points="417,54.5 419.5,56.72 422,55.69 424.5,52 427,50.27 429.5,51.02 432,49.07 434.5,49.75 437,47.15 439.5,44.71 442,43.29 444.5,43.81 447,41.23 449.5,42.7 452,42.11 454.5,46.83 457,43.59 459.5,48.39 462,45.81 464.5,50.03 467,49.45 469.5,50.96 472,54.31 474.5,51.36 477,52.34 479.5,57.28 482,55.91 484.5,54.49 487,59.64 489.5,60.1 492,56.96 494.5,59.64 497,59.33 499.5,61.34 502,64.01 504.5,62.84 507,66.63 509.5,64.53 512,66.96 514.5,72.18 517,72.1 519.5,74.19 522,77.08 524.5,78.48 527,80.02 529.5,80.25 532,84.88 534.5,87.02 537,88.01 539.5,87.38 542,86.78 544.5,87.75 547,89.66 549.5,88.87 552,85.35 554.5,85.25 557,85.17 559.5,85.2 562,84.95 564.5,81.4 567,77.04 569.5,79.01 572,75.15 574.5,73.72 577,70.36 579,68.5 579,194.2 577,191.77 574.5,189.35 572,189.83 569.5,188.2 567,191.4 564.5,190.75 562,189.63 559.5,188.36 557,188.19 554.5,186.76 552,180.55 549.5,173.78 547,164.5 544.5,156.52 542,154.42 539.5,149.82 537,148.04 534.5,146.55 532,141.99 529.5,136.75 527,136.6 524.5,134.72 522,131.88 519.5,129.78 517,125.85 514.5,122.62 512,120.9 509.5,119.26 507,116.91 504.5,114.94 502,115.86 499.5,111.28 497,112.76 494.5,112.35 492,110.59 489.5,110.85 487,109.8 484.5,108.92 482,107.36 479.5,106.68 477,102.84 474.5,105.89 472,105.67 469.5,104.82 467,101.44 464.5,101.53 462,101.13 459.5,101.38 457,104.76 454.5,104.79 452,102.78 449.5,106.3 447,105.32 444.5,103.77 442,104.02 439.5,106.28 437,105.87 434.5,108.08 432,110.58 429.5,108.97 427,110.74 424.5,109.99 422,113.25 419.5,114.48 417,116.2" fill="rgba(107,10,37,0.1)"/><polygon points="417,51.5 419.5,52.93 422,50.92 424.5,49.75 427,44.43 429.5,43.15 432,41.24 434.5,40.13 437,41.17 439.5,36.9 442,37.66 444.5,34.82 447,35.47 449.5,36.78 452,39.44 454.5,39.67 457,38.57 459.5,41.75 462,42.98 464.5,48.48 467,50.05 469.5,52.03 472,54.63 474.5,56.72 477,58.5 479.5,58.03 482,55.66 484.5,59.12 487,57.93 489.5,59.9 492,59.85 494.5,60.49 497,61.48 499.5,63.12 502,63.86 504.5,64.19 507,69.02 509.5,70.23 512,73.43 514.5,74.45 517,76.27 519.5,79.74 522,79.17 524.5,84.38 527,85.72 529.5,86.88 532,88.31 534.5,90.91 537,90.57 539.5,92.6 542,94.33 544.5,94.28 547,93.95 549.5,96.75 552,96.48 554.5,97.48 557,98.27 559.5,100.13 562,98.64 564.5,101.26 567,102.49 569.5,99.39 572,100.76 574.5,101.55 577,96.83 579.5,95.33 582,95.53 584.5,92.57 587,88.7 589.5,83.8 592,82.57 594.5,83.28 597,81.81 599.5,79.83 602,76.72 604.5,80.22 607,78.07 609.5,80.03 612,74.5 612,223.2 609.5,213.55 607,208.02 604.5,203.55 602,196.39 599.5,192.83 597,193.76 594.5,191.88 592,190.12 589.5,190.43 587,183.42 584.5,182.9 582,176.08 579.5,172.68 577,169.94 574.5,169.92 572,167.3 569.5,163.66 567,162.64 564.5,161.37 562,158.91 559.5,157.19 557,155.51 554.5,156.46 552,155.53 549.5,154.35 547,154.33 544.5,151.26 542,149.26 539.5,146.35 537,143.67 534.5,139.13 532,135.6 529.5,132.31 527,132.88 524.5,129.78 522,126.69 519.5,123.32 517,122.18 514.5,119.8 512,120.37 509.5,117.81 507,116.43 504.5,114.61 502,113.91 499.5,110 497,108.41 494.5,110.15 492,108.86 489.5,105.08 487,107.78 484.5,106.53 482,103.27 479.5,102.9 477,101.04 474.5,100.99 472,102.3 469.5,100.68 467,100.82 464.5,102.66 462,100.52 459.5,101.04 457,101.44 454.5,100.48 452,99.63 449.5,101.99 447,102.04 444.5,100.66 442,102.89 439.5,102.91 437,103.64 434.5,106.37 432,104.35 429.5,105.29 427,107.11 424.5,109.48 422,108.19 419.5,109.8 417,113.2" fill="rgba(85,10,55,0.11)"/><polygon points="417,48.5 419.5,50.23 422,48.19 424.5,47.84 427,42.71 429.5,40.85 432,41.57 434.5,39.69 437,36.41 439.5,36.82 442,34.48 444.5,36.39 447,33.09 449.5,33.62 452,38.21 454.5,36.99 457,38 459.5,42.22 462,43.12 464.5,42.55 467,46.39 469.5,48.79 472,48.12 474.5,52.39 477,51.05 479.5,53.29 482,53.18 484.5,54.96 487,59.99 489.5,58.29 492,62.65 494.5,61.39 497,63.74 499.5,66.56 502,67.13 504.5,65.76 507,69.65 509.5,71.37 512,71.61 514.5,73.92 517,80.57 519.5,81.52 522,82.67 524.5,86.71 527,88.29 529.5,93.94 532,93.94 534.5,93.11 537,97.86 539.5,95.38 542,97.5 544.5,97.41 547,102.14 549.5,100.17 552,103.4 554.5,102.4 557,105.5 559.5,107.69 562,108.07 564.5,108.8 567,110.07 569.5,110.96 572,112.88 574.5,111.5 577,114.52 579.5,114.46 582,115.49 584.5,112.95 587,105.33 589.5,101.97 592,105.02 594.5,106.52 597,109.6 599.5,118.86 602,121.55 604.5,119.37 607,119.4 609.5,120.93 612,123.2 614.5,119.4 617,119.18 619.5,118.19 622,119.98 624.5,118.6 627,116.28 629.5,115.69 632,110.92 634.5,108.87 637,108.79 639.5,104.93 642,102.58 644.5,100.5 645,100.5 645,241.8 644.5,241.8 642,241.8 639.5,241.8 637,241.8 634.5,241.8 632,241.8 629.5,241.8 627,241.8 624.5,241.8 622,241.8 619.5,239.11 617,229.24 614.5,219.21 612,212.09 609.5,206.75 607,201.83 604.5,194.48 602,188.12 599.5,184.27 597,180.96 594.5,176.11 592,175.54 589.5,169.17 587,167.49 584.5,163.34 582,161.44 579.5,158.17 577,158.44 574.5,158.54 572,155.22 569.5,157.29 567,155.78 564.5,154.52 562,155.41 559.5,153.86 557,154.07 554.5,152.44 552,151.98 549.5,151.1 547,150.96 544.5,147.74 542,145.21 539.5,140.28 537,138.54 534.5,138.45 532,132.66 529.5,132.06 527,127.63 524.5,126.42 522,122.19 519.5,119.27 517,120.27 514.5,119.43 512,117.28 509.5,113.65 507,112.41 504.5,111.58 502,109.14 499.5,110.01 497,108.3 494.5,107.43 492,105.71 489.5,104.57 487,103.86 484.5,104.18 482,102.74 479.5,101.98 477,100.35 474.5,100.29 472,98.66 469.5,98.95 467,98.54 464.5,99.44 462,100.38 459.5,101.01 457,101.15 454.5,98.74 452,98.89 449.5,99.81 447,101.4 444.5,102.13 442,100.95 439.5,103 437,103.02 434.5,103.42 432,102.19 429.5,105.39 427,104.19 424.5,105 422,106.09 419.5,107.99 417,111.2" fill="rgba(63,10,73,0.11)"/><polygon points="417,45.5 419.5,43.06 422,44.18 424.5,38.79 427,40.43 429.5,33.08 432,35.31 434.5,32.87 437,32.29 439.5,31.54 442,26.28 444.5,26.49 447,28.84 449.5,27.2 452,27.62 454.5,29.44 457,35.59 459.5,38.67 462,41.29 464.5,41.12 467,47.12 469.5,47.56 472,48.66 474.5,52.28 477,53.53 479.5,52.99 482,56.59 484.5,56.73 487,58.95 489.5,61.92 492,62.03 494.5,62.45 497,66.37 499.5,68.65 502,67.75 504.5,71.65 507,68.64 509.5,70.88 512,73.76 514.5,80.59 517,82.35 519.5,85.5 522,86.33 524.5,90.37 527,95.34 529.5,94.4 532,96.15 534.5,97.14 537,100.58 539.5,103.77 542,103.67 544.5,104.24 547,106.08 549.5,105.8 552,110.97 554.5,109.34 557,110.08 559.5,111.79 562,115.16 564.5,113.29 567,116.89 569.5,114.71 572,115.91 574.5,114.74 577,119.57 579.5,119.68 582,118.74 584.5,117.61 587,120.16 589.5,120.25 592,123.06 594.5,123.96 597,123.48 599.5,121.66 602,120.89 604.5,125.61 607,126.31 609.5,122.84 612,125 614.5,125.06 617,127.69 619.5,123.17 622,123.41 624.5,127.48 627,126.26 629.5,125.87 632,127.6 634.5,126.83 637,127.48 639.5,125.44 642,124.74 644.5,124.51 647,122.45 649.5,119.39 652,113.4 654.5,112.19 657,112.51 659.5,111.9 662,110.31 664.5,107.73 667,108.61 669.5,106.84 672,105.63 674.5,103.96 677,98.5 677,195.2 674.5,194.34 672,192.62 669.5,195.16 667,193.95 664.5,194.77 662,191.35 659.5,192.54 657,189.96 654.5,187.29 652,186.54 649.5,181.22 647,177.16 644.5,177.95 642,173.61 639.5,172.88 637,172.63 634.5,171.9 632,169.88 629.5,170.75 627,167.43 624.5,169.59 622,165.82 619.5,167.71 617,165.89 614.5,167.08 612,165.04 609.5,163.82 607,163.29 604.5,162.91 602,163.35 599.5,161.07 597,159.98 594.5,159.67 592,156.92 589.5,158.36 587,154.79 584.5,155.34 582,156.25 579.5,152.92 577,151.14 574.5,153.59 572,152.8 569.5,149.1 567,151.91 564.5,149.02 562,151.01 559.5,147.22 557,146.72 554.5,148.38 552,146.32 549.5,147.01 547,144.72 544.5,143.93 542,139.79 539.5,139.19 537,137.81 534.5,133.51 532,130.52 529.5,127.38 527,124.64 524.5,122.67 522,121.19 519.5,117.03 517,117.02 514.5,116.84 512,114.84 509.5,113.32 507,111.42 504.5,108.01 502,107.11 499.5,106.84 497,104.51 494.5,106.97 492,105.76 489.5,105.19 487,101.27 484.5,103.48 482,102.24 479.5,101.52 477,100.6 474.5,100.71 472,101.19 469.5,98.45 467,100.8 464.5,99.15 462,97.51 459.5,100.2 457,96.68 454.5,99.29 452,98 449.5,98.91 447,98.63 444.5,100.28 442,100.9 439.5,98.64 437,100.09 434.5,100.88 432,102.37 429.5,101.53 427,105.01 424.5,103.46 422,104.69 419.5,105.44 417,109.2" fill="rgba(42,10,92,0.12)"/><polygon points="417,44.5 419.5,44.82 422,42.42 424.5,39.11 427,34.55 429.5,31.41 432,27.29 434.5,30.42 437,25.8 439.5,25.07 442,23.05 444.5,23.83 447,31.22 449.5,27.55 452,28.45 454.5,35.11 457,34.77 459.5,40.47 462,42.54 464.5,44.34 467,43.64 469.5,48.2 472,51.13 474.5,51.56 477,52.42 479.5,53.85 482,54.59 484.5,58.24 487,57.04 489.5,58.42 492,60.52 494.5,63.04 497,60.77 499.5,60.52 502,66.7 504.5,67.66 507,69.12 509.5,69.45 512,69.67 514.5,73.65 517,78.77 519.5,83.93 522,84.59 524.5,89.96 527,92.3 529.5,90.93 532,97.27 534.5,97.72 537,102.05 539.5,102.04 542,105.84 544.5,106.33 547,108.77 549.5,109.7 552,108.81 554.5,110.92 557,112.86 559.5,115.23 562,116.55 564.5,118.9 567,120.28 569.5,119.58 572,119.78 574.5,121.34 577,124.14 579.5,123.89 582,123.86 584.5,125.26 587,122.92 589.5,122.88 592,123.15 594.5,123.52 597,123.18 599.5,126.49 602,128.18 604.5,124.39 607,127.48 609.5,128.98 612,128.33 614.5,125.56 617,128.28 619.5,126.66 622,126.57 624.5,126.03 627,128.89 629.5,131.15 632,127.37 634.5,127.88 637,129.38 639.5,127.93 642,130.35 644.5,131.97 647,130.88 649.5,128.95 652,129.08 654.5,130.1 657,132.62 659.5,134.09 662,131.91 664.5,129.79 667,130.23 669.5,131.1 672,129.44 674.5,129.35 677,130.82 679.5,132.73 682,129.07 684.5,131.53 687,130.73 689.5,127.74 692,125.93 694.5,125.17 697,127.17 699.5,127.55 702,127.3 704.5,123.63 707,123.13 709.5,119.23 712,118.77 714.5,116.5 715,116.5 715,223.2 714.5,222.53 712,218.9 709.5,213.2 707,210 704.5,210.4 702,206.91 699.5,204.17 697,200.56 694.5,197.88 692,196.86 689.5,192.11 687,192.24 684.5,190.53 682,188.05 679.5,188.42 677,185.77 674.5,185.92 672,184.08 669.5,183.63 667,182.36 664.5,182.32 662,180.22 659.5,180.35 657,178.66 654.5,178.05 652,176.88 649.5,173.62 647,174.1 644.5,169.39 642,169.11 639.5,170.77 637,168.49 634.5,168.83 632,164.55 629.5,164.29 627,165.57 624.5,164.24 622,163.64 619.5,161.18 617,162.7 614.5,160.12 612,160 609.5,156.93 607,157.6 604.5,157.95 602,158.46 599.5,156.67 597,156 594.5,152.81 592,155.4 589.5,152.9 587,151.21 584.5,153.14 582,152.43 579.5,150.91 577,149.02 574.5,150.41 572,148.12 569.5,149.84 567,146.74 564.5,146.87 562,147.91 559.5,146.67 557,145.03 554.5,144.82 552,142.72 549.5,144.45 547,144.45 544.5,143.45 542,140.53 539.5,137.89 537,135.26 534.5,133.36 532,127.25 529.5,127.52 527,123.6 524.5,121.67 522,120.26 519.5,116.45 517,113.64 514.5,111.9 512,110.68 509.5,110.92 507,110.57 504.5,108.41 502,106.73 499.5,103.53 497,105.75 494.5,101.61 492,103.26 489.5,101.67 487,102.63 484.5,99.01 482,100.5 479.5,98.33 477,100.16 474.5,98.55 472,97.34 469.5,98.16 467,99.41 464.5,98.08 462,95.84 459.5,96.03 457,98.12 454.5,95.82 452,96.69 449.5,97.95 447,98.33 444.5,98.51 442,99.27 439.5,98.41 437,100.99 434.5,100.13 432,103.29 429.5,100.44 427,101.43 424.5,101.57 422,102.06 419.5,102.61 417,107.2" fill="rgba(20,10,110,0.12)"/><line x1="417" x2="715" y1="127.50" y2="127.50" stroke="#5a5a5a" stroke-width="1.2" stroke-opacity="0.9"/><polyline points="417.6,80.2 419.6,79.72 421.6,79.39 423.6,78.67 425.6,77.89 427.6,77.14 429.6,75.4 431.6,74.71 433.6,74.25 435.6,73.62 437.6,72.49 439.6,73.01 441.6,72.31 443.6,72.66 445.6,72.48 447.6,71.93 449.6,71.94 451.6,72.81 453.6,73.4 455.6,73.84 457.6,75.34 459.6,75.37 461.6,75.87 463.6,76.1 465.6,77.61 467.6,77.8 469.6,78.26 471.6,78.67 473.6,79.15 475.6,79.79 477.6,81.31 479.6,82.48 481.6,83.47 483.6,82.99 485.6,83.56 487.6,84.16 489.6,84.86 491.6,86.18 493.6,86.65 495.6,87.36 497.6,87.39 499.6,87.68 501.6,89.06 503.6,90.01 505.6,90.34 507.6,91.65 509.6,93.1 511.6,94.74 513.6,96.53 515.6,97.95 517.6,98.58 519.6,99.66 521.6,101.24 523.6,102.92 525.6,104.07 527.6,104.1 529.6,105.31 531.6,106.4 533.6,108.21 535.6,109.3 537.6,110.85 539.6,111.56 541.6,113.37 543.6,114.49 545.6,115.11 547.6,117.08 549.6,117.88 551.6,118.47 553.6,120.7 555.6,121.92 557.6,123.33 559.6,124.49 561.6,125.61 563.6,127.34 565.6,128.33 567.6,128.14 569.6,129.14 571.6,129.71 573.6,130.04 575.6,131.03 577.6,131.06 579.6,132.41 581.6,132.75 583.6,132.96 585.6,133.88 587.6,134.4 589.6,135.52 591.6,136.14 593.6,136.68 595.6,137.37 597.6,137.89 599.6,139.15 601.6,138.62 603.6,140.06 605.6,139.68 607.6,140.28 609.6,140.41 611.6,141.53 613.6,142.56 615.6,142.86 617.6,142.69 619.6,143.89 621.6,143.99 623.6,144.53 625.6,145.31 627.6,146.9 629.6,147.36 631.6,149.08 633.6,149.66 635.6,150.18 637.6,150.88 639.6,152.7 641.6,153.2 643.6,154.24 645.6,153.58 647.6,154.23 649.6,154.57 651.6,154.25 653.6,154.93 655.6,154.8 657.6,155.13 659.6,156.47 661.6,156.83 663.6,157.64 665.6,158.61 667.6,158.99 669.6,158.06 671.6,158.13 673.6,159.44 675.6,160.15 677.6,160.28 679.6,162 681.6,162.51 683.6,162.02 685.6,161.48 687.6,162.11 689.6,161.77 691.6,161.55 693.6,161.27 695.6,161.55 697.6,161.27 699.6,162.19 701.6,162.46 703.6,162.81 705.6,163.58 707.6,163.01 709.6,163.49 711.6,162.45 713.6,161.95 715,161.6" fill="none" stroke="rgb(10,0,125)" stroke-width="1.5" stroke-linejoin="round" stroke-linecap="round"/><polyline points="417.6,81.9 419.6,81.9 421.6,80.81 423.6,79.9 425.6,79.43 427.6,77.84 429.6,77.95 431.6,76.62 433.6,75.34 435.6,75.33 437.6,74.13 439.6,74.87 441.6,74.37 443.6,73.64 445.6,74.39 447.6,73.47 449.6,74.07 451.6,73.39 453.6,74.34 455.6,75.33 457.6,75.51 459.6,76.18 461.6,76.46 463.6,77.61 465.6,78.44 467.6,78.34 469.6,79.32 471.6,79.78 473.6,80.78 475.6,81.93 477.6,82.19 479.6,82.78 481.6,83.64 483.6,84.46 485.6,85.35 487.6,85.88 489.6,85.61 491.6,85.9 493.6,87.55 495.6,87.29 497.6,88.5 499.6,88.49 501.6,89.56 503.6,90.66 505.6,92.24 507.6,92.84 509.6,94.23 511.6,95.99 513.6,96.95 515.6,97.77 517.6,99.22 519.6,100.24 521.6,102.01 523.6,103.02 525.6,103.49 527.6,105.13 529.6,106.6 531.6,107.87 533.6,108.93 535.6,109.96 537.6,111.04 539.6,112.8 541.6,113.42 543.6,114.37 545.6,115.62 547.6,116.91 549.6,118.15 551.6,119.24 553.6,120.63 555.6,122.48 557.6,122.9 559.6,124.14 561.6,125.52 563.6,126.72 565.6,128.74 567.6,129.09 569.6,129.62 571.6,129.16 573.6,130.5 575.6,131.1 577.6,131 579.6,131.61 581.6,132.6 583.6,133.2 585.6,133.94 587.6,134.82 589.6,135.86 591.6,136.58 593.6,137.44 595.6,138.01 597.6,137.73 599.6,138.72 601.6,138.73 603.6,139.56 605.6,139.82 607.6,140.95 609.6,140.86 611.6,141.45 613.6,141.83 615.6,142.69 617.6,143.39 619.6,143.42 621.6,144.99 623.6,145.02 625.6,145.38 627.6,147.1 629.6,147.16 631.6,148.95 633.6,149.43 635.6,149.85 637.6,148.56 639.6,149.3 641.6,148.73 643.6,148.54 645.6,147.81 647.6,147.33 649.6,147.28 651.6,146.53 653.6,147.37 655.6,147.49 657.6,148.35 659.6,148.89 661.6,148.48 663.6,148.23 665.6,147.18 667.6,146.64 669.6,146.76 671.6,148.21 673.6,147.94 675.6,147.73 676,147.8" fill="none" stroke="rgb(35,0,104)" stroke-width="1.5" stroke-linejoin="round" stroke-linecap="round"/><polyline points="417.6,83.4 419.6,82.54 421.6,82.18 423.6,80.67 425.6,80.13 427.6,78.99 429.6,78.77 431.6,77.55 433.6,77.94 435.6,76.29 437.6,75.76 439.6,76.09 441.6,76.06 443.6,75.51 445.6,75.07 447.6,74.52 449.6,75 451.6,75.54 453.6,75.89 455.6,76.28 457.6,76.93 459.6,77.52 461.6,77.95 463.6,79.02 465.6,79.59 467.6,79.37 469.6,80.46 471.6,81.34 473.6,81.13 475.6,82.85 477.6,83.02 479.6,83.5 481.6,84.08 483.6,85.31 485.6,85.5 487.6,86.03 489.6,87.28 491.6,86.99 493.6,87.97 495.6,89.16 497.6,89.69 499.6,90.25 501.6,90.98 503.6,90.92 505.6,92.71 507.6,93.66 509.6,95.41 511.6,96.53 513.6,96.99 515.6,98.64 517.6,99.25 519.6,100.45 521.6,101.96 523.6,103.3 525.6,104.32 527.6,104.76 529.6,105.75 531.6,108.07 533.6,108.88 535.6,110.23 537.6,111.68 539.6,113.27 541.6,114.31 543.6,115.48 545.6,116.59 547.6,118.17 549.6,119.52 551.6,120.8 553.6,122.82 555.6,123.63 557.6,125.8 559.6,127.46 561.6,128.68 563.6,129.81 565.6,131.4 567.6,132.41 569.6,134.12 571.6,135.28 573.6,135.77 575.6,137.27 577.6,139.13 579.6,139.81 581.6,141.92 583.6,143.09 585.6,143.92 587.6,145.21 589.6,146.91 591.6,147.03 593.6,148.52 595.6,150.2 597.6,150.42 599.6,152.08 601.6,152.68 603.6,154.58 605.6,155.93 607.6,157.03 609.6,157.71 611.6,159.92 613.6,160.55 615.6,162.25 617.6,163.2 619.6,164.25 621.6,165.09 623.6,166.32 625.6,166.58 627.6,166.44 629.6,166.6 631.6,166.58 633.6,167.23 635.6,168.14 637.6,167.3 639.6,167.32 641.6,166.35 643.6,166.41 645,164.9" fill="none" stroke="rgb(60,0,83)" stroke-width="1.5" stroke-linejoin="round" stroke-linecap="round"/><polyline points="417.6,84.6 419.6,84.9 421.6,83.9 423.6,82.72 425.6,82.69 427.6,81.76 429.6,81.45 431.6,80.63 433.6,80.21 435.6,79.72 437.6,78.72 439.6,78.11 441.6,78.77 443.6,77.52 445.6,77.74 447.6,77.95 449.6,77.35 451.6,77.52 453.6,77.95 455.6,78.02 457.6,78.96 459.6,78.7 461.6,78.78 463.6,79.77 465.6,79.73 467.6,80 469.6,80.17 471.6,81.62 473.6,81.76 475.6,82.73 477.6,83.29 479.6,84.45 481.6,84.17 483.6,85.49 485.6,86.36 487.6,86.34 489.6,87.16 491.6,87.68 493.6,88.3 495.6,89.68 497.6,89.46 499.6,90.7 501.6,90.51 503.6,92.18 505.6,92.5 507.6,94.5 509.6,94.79 511.6,96.12 513.6,97.33 515.6,98.51 517.6,100.25 519.6,101.06 521.6,101.65 523.6,102.96 525.6,104.39 527.6,105.88 529.6,106.94 531.6,107.94 533.6,109.53 535.6,110.9 537.6,112.1 539.6,113.35 541.6,114.46 543.6,115.74 545.6,116.62 547.6,117.79 549.6,118.86 551.6,119.94 553.6,121.8 555.6,122.59 557.6,124.55 559.6,125.33 561.6,126.16 563.6,128.48 565.6,129.34 567.6,129.97 569.6,132.14 571.6,133.31 573.6,134.61 575.6,135.05 577.6,134.99 579.6,135.35 581.6,136.03 583.6,136.5 585.6,136.6 587.6,136.32 589.6,136.31 591.6,137.4 593.6,137.53 595.6,137.62 597.6,137.41 599.6,137.18 601.6,137.65 603.6,138.35 605.6,139.01 607.6,138.99 609.6,138.49 611.6,137.2 612,136.9" fill="none" stroke="rgb(85,0,62)" stroke-width="1.5" stroke-linejoin="round" stroke-linecap="round"/><polyline points="417.6,89.8 419.6,90.22 421.6,89.59 423.6,88.99 425.6,89.22 427.6,89.22 429.6,88.22 431.6,88.38 433.6,86.95 435.6,87.01 437.6,86.08 439.6,85.9 441.6,85.51 443.6,85.45 445.6,85.15 447.6,85.65 449.6,85.09 451.6,84.95 453.6,85.44 455.6,85.83 457.6,85.91 459.6,85.2 461.6,85.54 463.6,85.64 465.6,86.1 467.6,87.01 469.6,86.75 471.6,86.92 473.6,88.39 475.6,88.8 477.6,89.12 479.6,88.69 481.6,89.4 483.6,89.86 485.6,91.58 487.6,91.47 489.6,92.3 491.6,93.25 493.6,94.77 495.6,94.84 497.6,96.45 499.6,96.3 501.6,97.38 503.6,97.5 505.6,98.28 507.6,99.64 509.6,100.46 511.6,100.09 513.6,100.72 515.6,100.87 517.6,101.53 519.6,102.26 521.6,102.93 523.6,103.49 525.6,103.72 527.6,103.99 529.6,104.97 531.6,105.14 533.6,105.53 535.6,106.69 537.6,106.62 539.6,106.34 541.6,108.43 543.6,109.54 545.6,109.95 547.6,111.76 549.6,111.81 551.6,112.68 553.6,111.38 555.6,112.12 557.6,112.49 559.6,113.43 561.6,112.12 563.6,111.74 565.6,111.71 567.6,111.33 569.6,112 571.6,110.97 573.6,108.46 575.6,106.79 577.6,106.16 578.5,105.9" fill="none" stroke="rgb(110,0,42)" stroke-width="1.5" stroke-linejoin="round" stroke-linecap="round"/><polyline points="417.6,88.9 419.6,88.62 421.6,87.56 423.6,87.22 425.6,87.11 427.6,86.37 429.6,85.82 431.6,85.98 433.6,85.44 435.6,85.76 437.6,85.21 439.6,84.25 441.6,84.36 443.6,83.85 445.6,83.52 447.6,83.23 449.6,84.02 451.6,83.62 453.6,83.96 455.6,84.08 457.6,84.29 459.6,84.35 461.6,85.21 463.6,85.28 465.6,84.76 467.6,85.81 469.6,85.61 471.6,86.73 473.6,86.95 475.6,87.62 477.6,88.4 479.6,88.94 481.6,89.33 483.6,89.39 485.6,89.93 487.6,91.29 489.6,92.01 491.6,93.22 493.6,93.66 495.6,93.21 497.6,93.86 499.6,94.6 501.6,94.64 503.6,95.69 505.6,94.97 507.6,95.88 509.6,96.83 511.6,97.84 513.6,98.31 515.6,99 517.6,100.41 519.6,101.08 521.6,102.06 523.6,102.03 525.6,102.25 527.6,103.13 529.6,103.75 531.6,104.15 533.6,105.11 535.6,105.92 537.6,105.43 539.6,104.06 541.6,104.49 543.6,105.28 545.5,104.4" fill="none" stroke="rgb(135,0,21)" stroke-width="1.5" stroke-linejoin="round" stroke-linecap="round"/><polyline points="417.6,86.8 419.6,86.45 421.6,86.46 423.6,85.18 425.6,85.45 427.6,84.14 429.6,83.23 431.6,83.15 433.6,82.22 435.6,81.44 437.6,81.39 439.6,81.81 441.6,81.58 443.6,82.22 445.6,81.39 447.6,82.32 449.6,82.5 451.6,82.8 453.6,83.19 455.6,83.33 457.6,83.01 459.6,83.3 461.6,82.78 463.6,82.9 465.6,83.21 467.6,84.47 469.6,85.75 471.6,85.86 473.6,86.7 475.6,86.17 477.6,86.63 479.6,87.48 481.6,87.9 483.6,88.11 485.6,87.53 487.6,88.21 489.6,88.04 491.6,88.86 493.6,88.84 495.6,89.15 497.6,89.45 499.6,89.87 501.6,89.43 503.6,90.32 505.6,89.88 507.6,91 509.6,90.48 511.3,90.7" fill="none" stroke="rgb(160,0,0)" stroke-width="1.5" stroke-linejoin="round" stroke-linecap="round"/><text x="416" y="17.000000000000007" font-size="7.3" text-anchor="end" fill="#555" >0.15</text><text x="416" y="54.699999999999996" font-size="7.3" text-anchor="end" fill="#555" >0.1</text><text x="416" y="92.39999999999999" font-size="7.3" text-anchor="end" fill="#555" >0.05</text><text x="416" y="130.1" font-size="7.3" text-anchor="end" fill="#555" >0</text><text x="416" y="167.79999999999998" font-size="7.3" text-anchor="end" fill="#555" >−0.05</text><text x="416" y="205.5" font-size="7.3" text-anchor="end" fill="#555" >−0.1</text><text x="416" y="243.2" font-size="7.3" text-anchor="end" fill="#555" >−0.15</text><text x="717" y="25.57340517156026" font-size="7.3" text-anchor="start" fill="#555" >5</text><text x="717" y="234.62659482843972" font-size="7.3" text-anchor="start" fill="#555" >5</text><text x="717" y="55.438146551114464" font-size="7.3" text-anchor="start" fill="#555" >7</text><text x="717" y="204.76185344888555" font-size="7.3" text-anchor="start" fill="#555" >7</text><text x="717" y="77.83670258578013" font-size="7.3" text-anchor="start" fill="#555" >10</text><text x="717" y="182.36329741421986" font-size="7.3" text-anchor="start" fill="#555" >10</text><text x="717" y="103.96835129289006" font-size="7.3" text-anchor="start" fill="#555" >20</text><text x="717" y="156.23164870710994" font-size="7.3" text-anchor="start" fill="#555" >20</text><text x="717" y="119.64734051715602" font-size="7.3" text-anchor="start" fill="#555" >50</text><text x="717" y="140.55265948284398" font-size="7.3" text-anchor="start" fill="#555" >50</text><text x="429" y="248.0" font-size="7.3" text-anchor="middle" fill="#555" >May 2022</text><text x="502.5" y="248.0" font-size="7.3" text-anchor="middle" fill="#555" >Jun 2022</text><text x="573.5" y="248.0" font-size="7.3" text-anchor="middle" fill="#555" >Jul 2022</text><text x="647" y="248.0" font-size="7.3" text-anchor="middle" fill="#555" >Aug 2022</text><text x="566.5" y="260.7" font-size="8.3" text-anchor="middle" fill="#555" >date</text><text transform="translate(398,127.5) rotate(-90)" font-size="8.3" text-anchor="middle" fill="#555">r(t)</text><text transform="translate(738.5,81.4) rotate(-90)" font-size="8.7" text-anchor="middle" fill="#555">doubling time</text><text transform="translate(747.5,80.4) rotate(-90)" font-size="8.3" text-anchor="middle" fill="#555">(days)</text><text transform="translate(738.5,174.4) rotate(-90)" font-size="8.9" text-anchor="middle" fill="#555">halving time</text><text transform="translate(747.5,173.4) rotate(-90)" font-size="8.3" text-anchor="middle" fill="#555">(days)</text><rect x="611" y="15" width="80" height="72" fill="#fff"/><line x1="614.5" x2="630" y1="21.6" y2="21.6" stroke="rgb(160,0,0)" stroke-width="2.4"/><text x="633" y="24.200000000000003" font-size="7.3" text-anchor="start" fill="#555" >censor 05 Jun 22</text><line x1="614.5" x2="630" y1="31.6" y2="31.6" stroke="rgb(135,0,21)" stroke-width="2.4"/><text x="633" y="34.2" font-size="7.3" text-anchor="start" fill="#555" >censor 19 Jun 22</text><line x1="614.5" x2="630" y1="41.6" y2="41.6" stroke="rgb(110,0,42)" stroke-width="2.4"/><text x="633" y="44.2" font-size="7.3" text-anchor="start" fill="#555" >censor 03 Jul 22</text><line x1="614.5" x2="630" y1="51.6" y2="51.6" stroke="rgb(85,0,62)" stroke-width="2.4"/><text x="633" y="54.2" font-size="7.3" text-anchor="start" fill="#555" >censor 17 Jul 22</text><line x1="614.5" x2="630" y1="61.6" y2="61.6" stroke="rgb(60,0,83)" stroke-width="2.4"/><text x="633" y="64.2" font-size="7.3" text-anchor="start" fill="#555" >censor 31 Jul 22</text><line x1="614.5" x2="630" y1="71.6" y2="71.6" stroke="rgb(35,0,104)" stroke-width="2.4"/><text x="633" y="74.19999999999999" font-size="7.3" text-anchor="start" fill="#555" >censor 14 Aug 22</text><line x1="614.5" x2="630" y1="81.6" y2="81.6" stroke="rgb(10,0,125)" stroke-width="2.4"/><text x="633" y="84.19999999999999" font-size="7.3" text-anchor="start" fill="#555" >censor 30 Aug 22</text><text x="376" y="14.3" font-size="20" font-weight="bold" fill="#000">b</text>
</svg>
</body></html>
